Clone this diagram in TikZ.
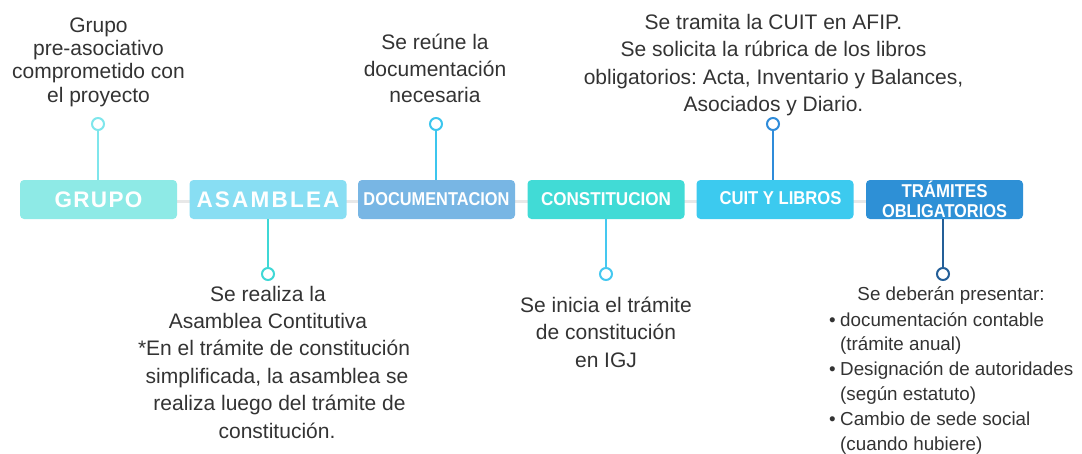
\documentclass[tikz,border=0pt]{standalone}
\usepackage{fontspec}
\usepackage{graphicx}
\setmainfont{Liberation Sans}
\usetikzlibrary{backgrounds}
\frenchspacing
\definecolor{txtgray}{HTML}{333333}
\definecolor{tlgray}{HTML}{E8E8E8}
\definecolor{cGrupo}{HTML}{8EEAE6}
\definecolor{cAsam}{HTML}{88DEF3}
\definecolor{cDoc}{HTML}{78B6E4}
\definecolor{cCons}{HTML}{41DBD6}
\definecolor{cCuit}{HTML}{3CCAEF}
\definecolor{cTram}{HTML}{2E90D6}
\definecolor{sGrupo}{HTML}{7FE6EC}
\definecolor{sAsam}{HTML}{3FD8D6}
\definecolor{sDoc}{HTML}{3CC6EE}
\definecolor{sCons}{HTML}{45C8F0}
\definecolor{sCuit}{HTML}{2F8CDA}
\definecolor{sTram}{HTML}{245F98}
\newcommand\fitw[2]{\resizebox{#1}{\height}{#2}}
\begin{document}
\frenchspacing
\begin{tikzpicture}[x=1pt,y=-1pt,
  box/.style={rounded corners=4pt, minimum width=157pt, minimum height=39pt, inner sep=0pt, text=white},
  boxfont/.style={font=\fontsize{18.6}{19.5}\selectfont\bfseries},
  spacedfont/.style={font=\fontsize{22.5}{23}\selectfont\bfseries},
  desc/.style={align=center, text=txtgray, inner sep=0pt, anchor=base},
  dot/.style={circle, draw, fill=white, line width=2pt, minimum size=12pt, inner sep=0pt},
  stem/.style={line width=2pt}]
\useasboundingbox (0,0) rectangle (1082,453);

% boxes
\node[box, spacedfont, fill=cGrupo] (grupo) at (98.5,199.5)
  {\makebox[88pt][s]{G\hfill R\hfill U\hfill P\hfill O}};
\node[box, spacedfont, fill=cAsam] (asam) at (268,199.5)
  {\makebox[143pt][s]{A\hfill S\hfill A\hfill M\hfill B\hfill L\hfill E\hfill A}};
\node[box, boxfont, fill=cDoc] (doc) at (436.5,199.5) {\fitw{146pt}{DOCUMENTACION}};
\node[box, boxfont, fill=cCons] (cons) at (606,199.5) {\fitw{130pt}{CONSTITUCION}};
\node[box, boxfont, fill=cCuit] (cuit) at (775,199.5) {\hspace*{11pt}\raisebox{2.5pt}{\fitw{122pt}{CUIT Y LIBROS}}};
\node[box, boxfont, fill=cTram, align=center] (tram) at (944.5,199.5) {\fitw{86pt}{TRÁMITES}\\\fitw{125pt}{OBLIGATORIOS}};

% timeline
\begin{pgfonlayer}{background}
\draw[line width=3pt, tlgray] ([yshift=-2pt]grupo.center) -- ([yshift=-2pt]tram.center);
\end{pgfonlayer}

% markers
\node[dot, draw=sGrupo] (c1) at (98,124) {};
\node[dot, draw=sAsam] (c2) at (268,274) {};
\node[dot, draw=sDoc] (c3) at (436,124) {};
\node[dot, draw=sCons] (c4) at (606,274) {};
\node[dot, draw=sCuit] (c5) at (773,124) {};
\node[dot, draw=sTram] (c6) at (943,274) {};
\draw[stem, sGrupo] (c1.south) -- (c1 |- grupo.north);
\draw[stem, sAsam] (c2.north) -- (c2 |- asam.south);
\draw[stem, sDoc] (c3.south) -- (c3 |- doc.north);
\draw[stem, sCons] (c4.north) -- (c4 |- cons.south);
\draw[stem, sCuit] (c5.south) -- (c5 |- cuit.north);
\draw[stem, sTram] (c6.north) -- (c6 |- tram.south);

% descriptions (base anchor = baseline of last line)
\node[desc, font=\fontsize{21}{23.4}\selectfont] (t1) at (98.5,102.3)
  {Grupo\\pre-asociativo\\comprometido con\\el proyecto};
\node[desc, font=\fontsize{21}{26.4}\selectfont] (t3) at (435,102.7)
  {Se reúne la\\documentación\\necesaria};
\node[desc, font=\fontsize{21}{27.4}\selectfont] (t5) at (773.5,111.5)
  {Se tramita la CUIT en AFIP.\\Se solicita la rúbrica de los libros\\obligatorios: Acta, Inventario y Balances,\\Asociados y Diario.};
\node[desc, font=\fontsize{21}{27.4}\selectfont] (t2) at (268,438)
  {Se realiza la\\Asamblea Contitutiva\\\hspace*{12pt}*En el trámite de constitución\\\hspace*{18pt}simplificada, la asamblea se\\\hspace*{23pt}realiza luego del trámite de\\\hspace*{18pt}constitución.};
\node[desc, font=\fontsize{21}{27.3}\selectfont] (t4) at (606,367)
  {Se inicia el trámite\\de constitución\\en IGJ};
\node[desc, font=\fontsize{18.8}{24.8}\selectfont] (t6) at (951,300) {Se deberán presentar:};
\node[desc, align=left, anchor=base west, font=\fontsize{18.8}{24.8}\selectfont] (t7) at (829,450)
  {\makebox[11pt][l]{•}documentación contable\\\hspace*{11pt}(trámite anual)\\\makebox[11pt][l]{•}Designación de autoridades\\\hspace*{11pt}(según estatuto)\\\makebox[11pt][l]{•}Cambio de sede social\\\hspace*{11pt}(cuando hubiere)};
\end{tikzpicture}
\end{document}
